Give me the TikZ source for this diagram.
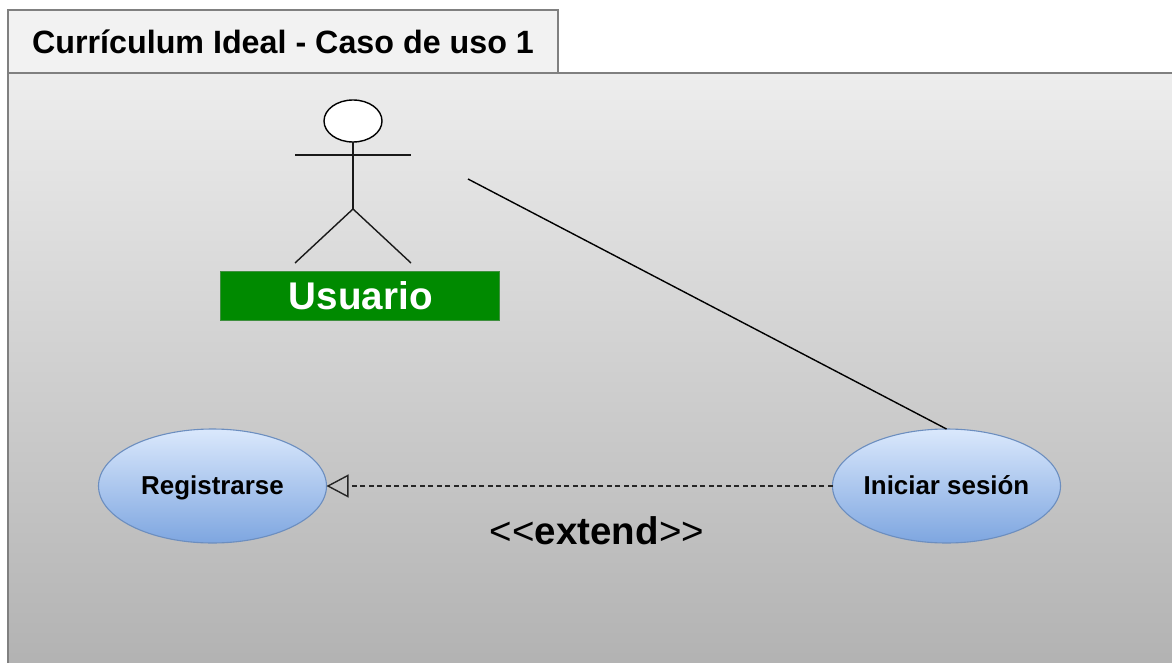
\documentclass[tikz,border=0pt]{standalone}
\usepackage{fontspec}
\setmainfont{Liberation Sans}
\usetikzlibrary{shapes.geometric,arrows.meta}
\definecolor{framegray}{HTML}{808080}
\definecolor{usecasetop}{HTML}{DAE8FC}
\definecolor{usecasebot}{HTML}{7EA6E0}
\definecolor{usecaseline}{HTML}{6C8EBF}
\definecolor{actorgreen}{HTML}{008A00}
\definecolor{actorline}{HTML}{3F8F3F}
\tikzset{
  usecase/.style={ellipse,draw=usecaseline,line width=1.1pt,top color=usecasetop,bottom color=usecasebot,
    minimum width=228pt,minimum height=114pt,inner sep=-8pt,outer sep=0pt,text height=20pt,text depth=4pt,
    font=\bfseries\fontsize{25.9}{30}\selectfont},
  limb/.style={draw=black!90,line width=1.4pt},
}
\begin{document}
\begin{tikzpicture}[x=1pt,y=-1pt]
\useasboundingbox (0,0) rectangle (1172,663);
\shade[top color=black!7,bottom color=black!30] (8,73) rectangle (1172,663);
\draw[framegray,line width=1.5pt] (8,663) -- (8,73) -- (1172,73);
\node[draw=framegray,line width=1.5pt,fill=black!5,minimum width=550pt,minimum height=63pt,inner sep=0pt,outer sep=0pt,
  font=\bfseries\fontsize{32.25}{36}\selectfont] (tab) at (283,41.5) {Currículum Ideal - Caso de uso 1};
\node[ellipse,draw=black,line width=1.4pt,fill=white,minimum width=58pt,minimum height=42pt,inner sep=0pt,outer sep=0pt] (head) at (353,121) {};
\coordinate (hip) at (353,209);
\coordinate (armL) at (295,155);
\coordinate (armR) at (411,155);
\coordinate (footL) at (295,263);
\coordinate (footR) at (411,263);
\draw[limb] (head.south) -- (hip);
\draw[limb] (armL) -- (armR);
\draw[limb] (footL) -- (hip) -- (footR);
\node[draw=actorline,line width=1pt,fill=actorgreen,text=white,minimum width=279pt,minimum height=49.5pt,inner sep=0pt,outer sep=0pt,
  font=\bfseries\fontsize{38.6}{46}\selectfont] (usuario) at (359.5,296) {\hspace*{2.5pt}Usuario};
\node[usecase] (reg) at (212.5,486) {Registrarse};
\node[usecase] (ini) at (946.5,486) {Iniciar sesión};
\coordinate (assocStart) at (468,179);
\draw[black,line width=1.4pt] (assocStart) -- (ini.north);
\draw[black!85,line width=1.3pt,dash pattern=on 5pt off 3.5pt,-{Triangle[open,fill=none,length=22pt,width=23pt,line width=1.4pt]}] (ini.west) -- (reg.east);
\node[font=\fontsize{38.5}{44}\selectfont,inner sep=0pt] (ext) at (597,531) {<{}<\textbf{extend}>{}>};
\end{tikzpicture}
\end{document}
